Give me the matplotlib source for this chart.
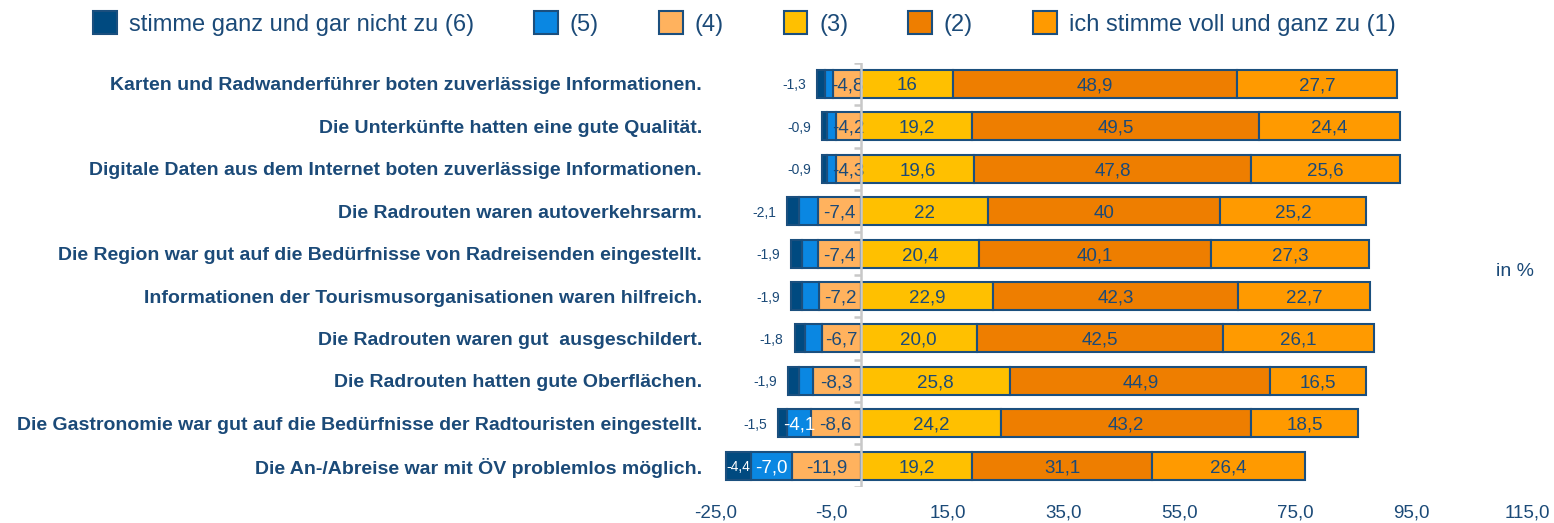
import matplotlib
matplotlib.use('Agg')
import matplotlib.pyplot as plt
import matplotlib.patches as mpatches
import numpy as np

plt.rcParams['font.family'] = ['Liberation Sans Narrow', 'Liberation Sans', 'DejaVu Sans']

categories = [
    'Karten und Radwanderführer boten zuverlässige Informationen.',
    'Die Unterkünfte hatten eine gute Qualität.',
    'Digitale Daten aus dem Internet boten zuverlässige Informationen.',
    'Die Radrouten waren autoverkehrsarm.',
    'Die Region war gut auf die Bedürfnisse von Radreisenden eingestellt.',
    'Informationen der Tourismusorganisationen waren hilfreich.',
    'Die Radrouten waren gut  ausgeschildert.',
    'Die Radrouten hatten gute Oberflächen.',
    'Die Gastronomie war gut auf die Bedürfnisse der Radtouristen eingestellt.',
    'Die An-/Abreise war mit ÖV problemlos möglich.',
]

# negative side (shares, plotted to the left of zero)
val6 = [1.3, 0.9, 0.9, 2.1, 1.9, 1.9, 1.8, 1.9, 1.5, 4.4]
val5 = [1.4, 1.6, 1.5, 3.2, 2.8, 2.9, 2.9, 2.4, 4.1, 7.0]
val4 = [4.8, 4.2, 4.3, 7.4, 7.4, 7.2, 6.7, 8.3, 8.6, 11.9]
# positive side
val3 = [16, 19.2, 19.6, 22, 20.4, 22.9, 20.0, 25.8, 24.2, 19.2]
val2 = [48.9, 49.5, 47.8, 40, 40.1, 42.3, 42.5, 44.9, 43.2, 31.1]
val1 = [27.7, 24.4, 25.6, 25.2, 27.3, 22.7, 26.1, 16.5, 18.5, 26.4]
lab3 = ['16', '19,2', '19,6', '22', '20,4', '22,9', '20,0', '25,8', '24,2', '19,2']
lab2 = ['48,9', '49,5', '47,8', '40', '40,1', '42,3', '42,5', '44,9', '43,2', '31,1']
lab1 = ['27,7', '24,4', '25,6', '25,2', '27,3', '22,7', '26,1', '16,5', '18,5', '26,4']

legend_labels = ['stimme ganz und gar nicht zu (6)', '(5)', '(4)', '(3)', '(2)',
                 'ich stimme voll und ganz zu (1)']
xticks = [-25, -5, 15, 35, 55, 75, 95, 115]

colors = {'6': '#004A80', '5': '#0A87E2', '4': '#FFB25E', '3': '#FFC000',
          '2': '#EE7E00', '1': '#FF9A00'}
edge = '#1B4F7E'
text_col = '#1B4A78'


def fmt(v):
    return f'{v:.1f}'.replace('.', ',')


fig = plt.figure(figsize=(15.54, 5.23), dpi=100)
ax = fig.add_axes([0.4607, 0.069, 0.5219, 0.811])

y = np.arange(len(categories))
v4 = np.array(val4)
v5 = np.array(val5)
v6 = np.array(val6)
h = 0.66
bar_kw = dict(height=h, edgecolor=edge, linewidth=1.5)

ax.barh(y, v4, left=-v4, color=colors['4'], **bar_kw)
ax.barh(y, v5, left=-(v4 + v5), color=colors['5'], **bar_kw)
ax.barh(y, v6, left=-(v4 + v5 + v6), color=colors['6'], **bar_kw)
ax.barh(y, val3, left=0, color=colors['3'], **bar_kw)
ax.barh(y, val2, left=val3, color=colors['2'], **bar_kw)
ax.barh(y, val1, left=np.add(val3, val2), color=colors['1'], **bar_kw)

# labels inside the bars
lbl = dict(ha='center', va='center_baseline', fontsize=13.5)
for i in y:
    ax.text(-v4[i] / 2, i, fmt(-v4[i]), color=text_col, **lbl)
    if v5[i] > 3.5:
        ax.text(-v4[i] - v5[i] / 2, i, fmt(-v5[i]), color='white', **lbl)
    left6 = -(v4[i] + v5[i] + v6[i])
    if v6[i] > 3:
        ax.text(left6 + v6[i] / 2, i, fmt(-v6[i]), ha='center', va='center_baseline',
                fontsize=10, color='white')
    else:
        ax.annotate(fmt(-v6[i]), (left6, i), xytext=(-8, 0), textcoords='offset points',
                    ha='right', va='center_baseline', fontsize=10, color=text_col)
    ax.text(val3[i] / 2, i, lab3[i], color=text_col, **lbl)
    ax.text(val3[i] + val2[i] / 2, i, lab2[i], color=text_col, **lbl)
    ax.text(val3[i] + val2[i] + val1[i] / 2, i, lab1[i], color=text_col, **lbl)

# zero line with category separators
ax.axvline(0, color='#C8C8C8', linewidth=1.8, zorder=3)
ax.hlines(np.arange(len(categories) + 1) - 0.5, -1.1, 0, color='#C8C8C8', linewidth=1.8, zorder=3)

ax.set_xlim(-25, 115)
ax.set_ylim(len(categories) - 0.5, -0.5)
ax.set_xticks(xticks)
ax.set_xticklabels([fmt(t) for t in xticks], fontsize=13.5, color=text_col)
ax.set_yticks(y)
ax.set_yticklabels(categories, fontsize=14, fontweight='bold', color=text_col)
ax.tick_params(axis='both', length=0)
ax.tick_params(axis='x', pad=13)
ax.tick_params(axis='y', pad=10)
for s in ax.spines.values():
    s.set_visible(False)

fig.text(0.975, 0.48, 'in %', fontsize=14, color=text_col, ha='center', va='center')

handles = [mpatches.Patch(facecolor=colors[k], edgecolor=edge, linewidth=1.5)
           for k in ['6', '5', '4', '3', '2', '1']]
leg = fig.legend(handles, legend_labels, ncol=6, loc='center', bbox_to_anchor=(0.479, 0.955),
                 frameon=False, fontsize=17, handlelength=1.0, handleheight=1.1,
                 handletextpad=0.5, columnspacing=2.55)
for t in leg.get_texts():
    t.set_color(text_col)

fig.savefig('out.png', dpi=100)
